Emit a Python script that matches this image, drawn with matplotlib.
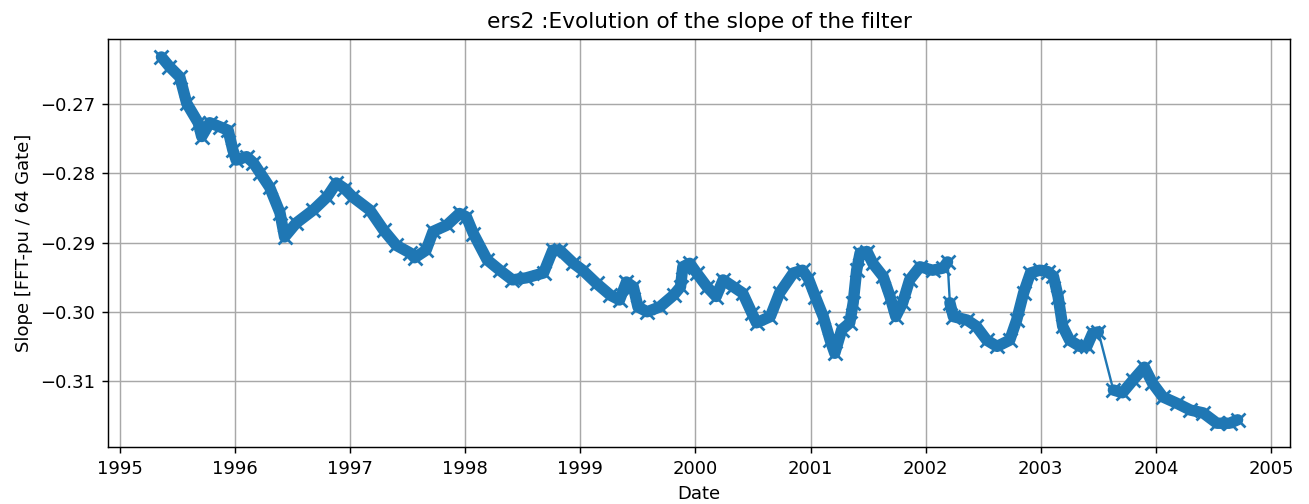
import matplotlib
matplotlib.use("Agg")
import matplotlib.pyplot as plt
from matplotlib.ticker import MultipleLocator, FormatStrFormatter

# slope of the filter (decimal years)
years_a = [1995.36, 1995.43, 1995.52, 1995.58, 1995.68, 1995.71, 1995.78, 1995.87, 1995.94, 1995.98,
           1996.01, 1996.10, 1996.16, 1996.22, 1996.30, 1996.39, 1996.43, 1996.53, 1996.68, 1996.80,
           1996.88, 1996.95, 1997.02, 1997.17, 1997.29, 1997.40, 1997.52, 1997.56, 1997.66, 1997.72,
           1997.84, 1997.95, 1998.01, 1998.07, 1998.19, 1998.30, 1998.41, 1998.53, 1998.68, 1998.76,
           1998.82, 1998.94, 1999.02, 1999.14, 1999.26, 1999.34, 1999.40, 1999.46, 1999.50, 1999.58,
           1999.69, 1999.81, 1999.87, 1999.89, 1999.95, 2000.01, 2000.10, 2000.18, 2000.24, 2000.33,
           2000.41, 2000.49, 2000.53, 2000.65, 2000.73, 2000.85, 2000.93, 2000.98, 2001.04, 2001.11,
           2001.17, 2001.21, 2001.27, 2001.34, 2001.37, 2001.40, 2001.43, 2001.49, 2001.54, 2001.63,
           2001.69, 2001.74, 2001.80, 2001.86, 2001.95, 2002.06, 2002.15, 2002.19]
slope_a = [-0.2632, -0.2646, -0.2661, -0.2699, -0.2727, -0.2747, -0.2727, -0.2733, -0.2738, -0.2766,
           -0.2781, -0.2776, -0.2785, -0.2800, -0.2820, -0.2857, -0.2892, -0.2872, -0.2853, -0.2834,
           -0.2814, -0.2822, -0.2834, -0.2853, -0.2882, -0.2904, -0.2915, -0.2922, -0.2911, -0.2884,
           -0.2875, -0.2858, -0.2863, -0.2887, -0.2925, -0.2940, -0.2954, -0.2951, -0.2944, -0.2911,
           -0.2911, -0.2930, -0.2940, -0.2959, -0.2976, -0.2983, -0.2957, -0.2964, -0.2993, -0.3000,
           -0.2993, -0.2976, -0.2964, -0.2935, -0.2930, -0.2944, -0.2964, -0.2978, -0.2954, -0.2964,
           -0.2973, -0.3002, -0.3016, -0.3007, -0.2973, -0.2944, -0.2940, -0.2952, -0.2978, -0.3007,
           -0.3041, -0.3060, -0.3026, -0.3016, -0.2987, -0.2940, -0.2915, -0.2913, -0.2930, -0.2949,
           -0.2978, -0.3007, -0.2987, -0.2954, -0.2935, -0.2940, -0.2937, -0.2928]

years_b = [2002.21, 2002.24, 2002.36, 2002.44, 2002.53, 2002.62, 2002.73, 2002.79, 2002.85, 2002.91,
           2002.99, 2003.06, 2003.11, 2003.15, 2003.19, 2003.25, 2003.34, 2003.40, 2003.45, 2003.50]
slope_b = [-0.2987, -0.3007, -0.3012, -0.3021, -0.3041, -0.3050, -0.3041, -0.3012, -0.2973, -0.2944,
           -0.2940, -0.2942, -0.2949, -0.2978, -0.3021, -0.3041, -0.3050, -0.3050, -0.3031, -0.3029]

years_c = [2003.63, 2003.71, 2003.80, 2003.90, 2003.97, 2004.06, 2004.18, 2004.30, 2004.41, 2004.53,
           2004.64, 2004.71]
slope_c = [-0.3113, -0.3117, -0.3099, -0.3080, -0.3103, -0.3123, -0.3132, -0.3142, -0.3146, -0.3161,
           -0.3161, -0.3156]

color = '#1f77b4'

# original was rendered at a higher dpi, so fonts and lines are a bit bigger
fig, ax = plt.subplots(figsize=(1309 / 130, 504 / 130), dpi=130)
fig.subplots_adjust(left=0.0825, right=0.9855, top=0.9226, bottom=0.1131)

# thin line across the whole record (shows the jumps between segments)
all_years = years_a + years_b + years_c
all_slope = slope_a + slope_b + slope_c
ax.plot(all_years, all_slope, color=color, linewidth=1.3)

# dense band of markers for each continuous segment
for x, y in [(years_a, slope_a), (years_b, slope_b), (years_c, slope_c)]:
    ax.plot(x, y, color=color, linewidth=6.3, solid_capstyle='round', solid_joinstyle='round')
    ax.plot(x, y, color=color, linestyle='none', marker='x', markersize=8, markeredgewidth=1.5)

ax.set_xlim(1994.896, 2005.165)
ax.set_ylim(-0.31953, -0.26061)
ax.xaxis.set_major_locator(MultipleLocator(1))
ax.xaxis.set_major_formatter(FormatStrFormatter('%d'))
ax.yaxis.set_major_locator(MultipleLocator(0.01))
ax.grid(True, color='#a8a8a8')

ax.set_title('ers2 :Evolution of the slope of the filter')
ax.set_xlabel('Date')
ax.set_ylabel('Slope [FFT-pu / 64 Gate]')

fig.savefig('out.png', dpi=130)
